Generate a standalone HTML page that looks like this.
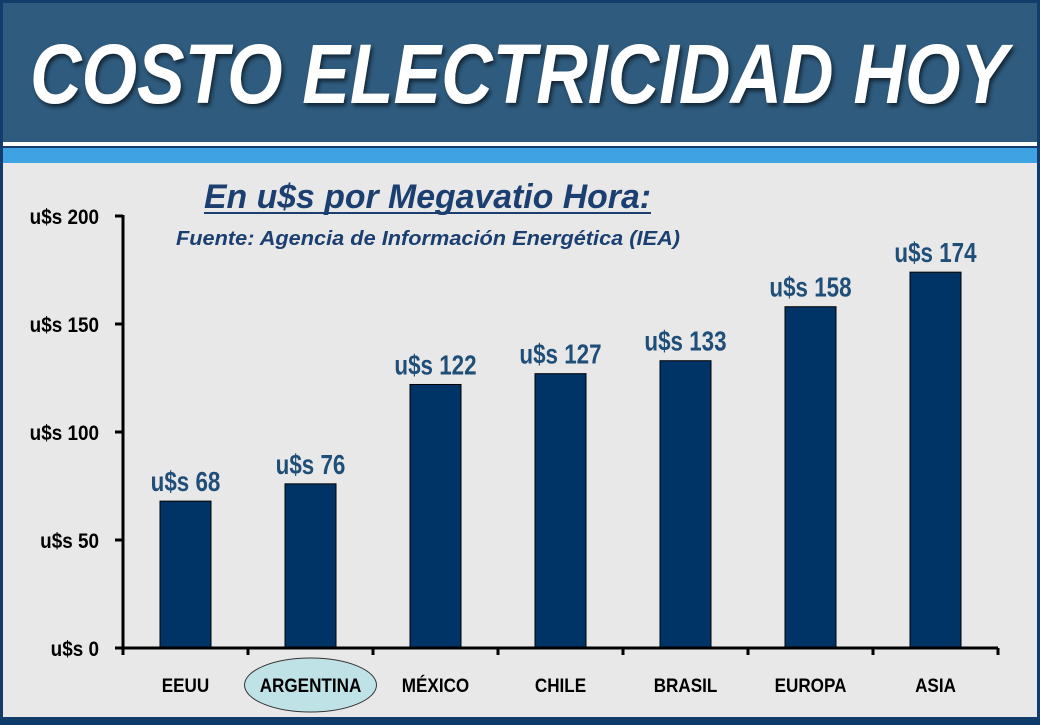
<!DOCTYPE html>
<html><head><meta charset="utf-8"><style>
html,body{margin:0;padding:0}
body{width:1040px;height:720px;overflow:hidden;background:#0d3a6b;font-family:"Liberation Sans",sans-serif}
</style></head><body>
<svg width="1040" height="720">
<rect x="0" y="0" width="1040" height="720" fill="#123d6a"/>
<rect x="3" y="3" width="1034" height="139" fill="#2e5b7e"/>
<rect x="3" y="142" width="1034" height="4" fill="#ffffff"/>
<rect x="3" y="148" width="1034" height="15" fill="#3fa2e2"/>
<rect x="3" y="163" width="1034" height="554" fill="#e8e8e8"/>
<defs><filter id="sh" x="-5%" y="-5%" width="110%" height="120%"><feDropShadow dx="2" dy="3" stdDeviation="2" flood-color="#000" flood-opacity="0.6"/></filter></defs>
<text x="30" y="103" font-size="84" font-weight="bold" font-style="italic" fill="#ffffff" filter="url(#sh)" textLength="978" lengthAdjust="spacingAndGlyphs">COSTO ELECTRICIDAD HOY</text>
<text x="204" y="208" font-size="34" font-weight="bold" font-style="italic" fill="#1b3f70" textLength="447" lengthAdjust="spacingAndGlyphs">En u$s por Megavatio Hora:</text>
<line x1="204" y1="213" x2="651" y2="213" stroke="#1b3f70" stroke-width="2"/>
<text x="176" y="245" font-size="20" font-weight="bold" font-style="italic" fill="#1b3f70" textLength="504" lengthAdjust="spacingAndGlyphs">Fuente: Agencia de Información Energética (IEA)</text>
<g id="chart"></g>
</svg>
<script>
const categories=["EEUU","ARGENTINA","MÉXICO","CHILE","BRASIL","EUROPA","ASIA"];
const values=[68,76,122,127,133,158,174];
const yTicks=[0,50,100,150,200];
const x0=123,band=125,yBase=648,pxPer=2.16;
const xPos=i=>x0+band*i+band/2;
const yPos=v=>yBase-v*pxPer;
const ns="http://www.w3.org/2000/svg";
const g=document.getElementById('chart');
function mk(t,a,txt){const e=document.createElementNS(ns,t);for(const k in a)e.setAttribute(k,a[k]);if(txt!=null)e.textContent=txt;g.appendChild(e);return e;}
function txt(x,y,s,size,sx,anchor,fill){return mk('text',{x:0,y:0,transform:`translate(${x},${y}) scale(${sx},1)`,"text-anchor":anchor,"font-size":size,"font-weight":'bold',fill:fill},s);}
let el=mk('ellipse',{cx:xPos(1),cy:685,rx:66,ry:27,fill:'#bfe2e6',stroke:'#333',"stroke-width":1});


values.forEach((v,i)=>{
 const b=mk('rect',{x:xPos(i)-25.5,y:yPos(v),width:51,height:yBase-yPos(v),fill:'#003366',stroke:'#000',"stroke-width":1});
 
 
 const l=txt(xPos(i),yPos(v)-10,'u$s '+v,28,0.8,'middle','#1f4e79');
 
 
 const c=txt(xPos(i),692,categories[i],19,0.9,'middle','#000');
 
 
});
let ax=mk('line',{x1:x0,y1:yPos(200)-1,x2:x0,y2:yBase+7,stroke:'#000',"stroke-width":3});


let xa=mk('line',{x1:x0-8,y1:yBase,x2:x0+band*7,y2:yBase,stroke:'#000',"stroke-width":3});


for(let i=0;i<=7;i++){const t=mk('line',{x1:x0+band*i,y1:yBase,x2:x0+band*i,y2:yBase+7,stroke:'#000',"stroke-width":3});
 
 }
yTicks.forEach(v=>{
 const t=mk('line',{x1:x0-8,y1:yPos(v),x2:x0,y2:yPos(v),stroke:'#000',"stroke-width":3});
 
 
 const l=txt(99,yPos(v)+8,'u$s '+v,21,0.9,'end','#000');
 
 
});
</script>
</body></html>
